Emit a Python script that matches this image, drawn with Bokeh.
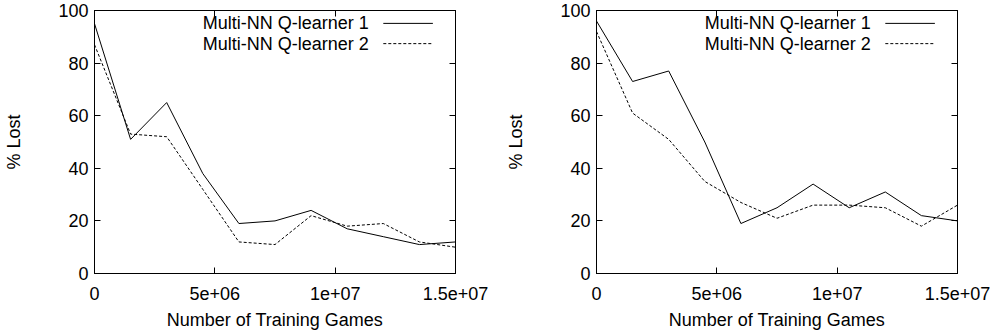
from bokeh.plotting import figure
from bokeh.layouts import row
from bokeh.models import Range1d, FixedTicker, LinearAxis, Label, Arrow
from bokeh.embed import file_html
from bokeh.resources import INLINE

games = [0, 1.5e6, 3e6, 4.5e6, 6e6, 7.5e6, 9e6, 1.05e7, 1.2e7, 1.35e7, 1.5e7]
left_q1 = [95, 51, 65, 38, 19, 20, 24, 17, 14, 11, 12]
left_q2 = [87, 53, 52, 32, 12, 11, 22, 18, 19, 12, 10]
right_q1 = [96, 73, 77, 50, 19, 25, 34, 25, 31, 22, 20]
right_q2 = [92, 61, 51, 35, 27, 21, 26, 26, 25, 18, 26]

series_names = ["Multi-NN Q-learner 1", "Multi-NN Q-learner 2"]
x_ticks = [0, 5000000, 10000000, 15000000]
x_tick_labels = ["0", "5e+06", "1e+07", "1.5e+07"]
y_ticks = [0, 20, 40, 60, 80, 100]
x_title = "Number of Training Games"
y_title = "% Lost"

FONT = "Liberation Sans"
FS = "18px"


def style_axis(ax):
    ax.axis_line_color = "black"
    ax.axis_line_width = 1
    ax.major_tick_line_color = "black"
    ax.major_tick_in = 6
    ax.major_tick_out = 0
    ax.minor_tick_line_color = None
    ax.major_label_text_font = FONT
    ax.major_label_text_color = "black"
    ax.major_label_text_font_size = FS


def make_panel(q1, q2, width, border_right):
    p = figure(width=width, height=334, output_backend="svg", toolbar_location=None,
               x_range=Range1d(0, 1.5e7), y_range=Range1d(0, 100),
               min_border_left=94, min_border_right=border_right,
               min_border_top=10, min_border_bottom=61)
    p.xgrid.visible = False
    p.ygrid.visible = False
    p.outline_line_color = "black"
    p.background_fill_color = "white"
    p.border_fill_color = "white"

    p.xaxis.ticker = FixedTicker(ticks=x_ticks)
    p.xaxis.major_label_overrides = {t: l for t, l in zip(x_ticks, x_tick_labels)}
    p.yaxis.ticker = FixedTicker(ticks=y_ticks)
    for ax in p.xaxis + p.yaxis:
        style_axis(ax)
        ax.axis_label_text_font = FONT
        ax.axis_label_text_font_size = FS
        ax.axis_label_text_font_style = "normal"
        ax.axis_label_text_color = "black"
    p.xaxis.axis_label = x_title
    p.xaxis.major_label_standoff = 13
    p.xaxis.axis_label_standoff = 7
    p.yaxis.axis_label = y_title
    p.yaxis.major_label_standoff = 6
    p.yaxis.axis_label_standoff = 31

    # mirrored tick marks on top and right (gnuplot border), no labels
    top = LinearAxis(ticker=FixedTicker(ticks=x_ticks))
    style_axis(top)
    top.major_label_overrides = {t: "" for t in x_ticks}
    top.major_label_standoff = 0
    p.add_layout(top, "above")
    right = LinearAxis(ticker=FixedTicker(ticks=y_ticks))
    style_axis(right)
    right.major_label_overrides = {t: "" for t in y_ticks}
    right.major_label_standoff = 0
    p.add_layout(right, "right")

    p.line(games, q1, line_color="black", line_width=1)
    p.line(games, q2, line_color="black", line_width=1, line_dash="3 2")

    # gnuplot-style key: text on the left, line sample on the right
    key_text_x = 1.14e7
    key_x0, key_x1 = 1.2e7, 1.406e7
    key_y = [95.1, 87.4]
    dashes = ["solid", "3 2"]
    for name, ky, dash in zip(series_names, key_y, dashes):
        p.add_layout(Label(x=key_text_x, y=ky, text=name, text_align="right",
                           text_baseline="middle", text_font=FONT,
                           text_font_size=FS, text_color="black"))
        p.add_layout(Arrow(x_start=key_x0, y_start=ky, x_end=key_x1, y_end=ky,
                           end=None, line_color="black", line_width=1,
                           line_dash=dash))
    return p


p1 = make_panel(left_q1, left_q2, 502, 47)
p2 = make_panel(right_q1, right_q2, 490, 35)
p = row(p1, p2)

open("out.html", "w").write(file_html(p, INLINE))
